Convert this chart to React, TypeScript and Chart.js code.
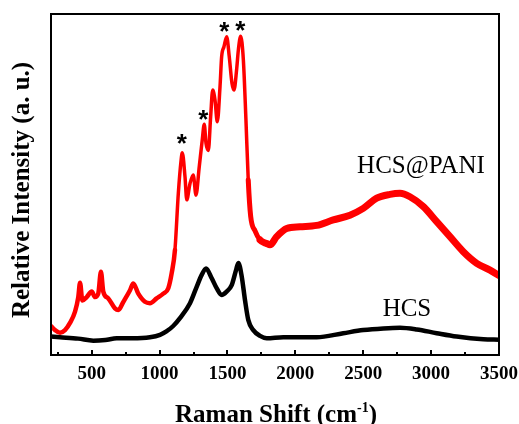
import { useEffect, useRef } from "react";
import { Chart, registerables } from "chart.js";

Chart.register(...registerables);

// HCS@PANI (red)
const paniShift = [
  200, 230, 266, 303, 340, 377, 401, 414, 431, 463, 500, 524, 548, 568, 585, 622, 671, 696, 733, 782,
  806, 843, 892, 929, 978, 1027, 1064, 1089, 1113, 1138, 1158, 1167, 1187, 1200, 1224, 1248, 1268, 1292,
  1314, 1329, 1342, 1359, 1376, 1391, 1408, 1425, 1445, 1457, 1474, 1494, 1513, 1533, 1548, 1568, 1580,
  1597, 1617, 1636, 1653, 1671, 1703, 1740, 1789, 1813, 1862, 1936, 2034, 2157, 2279, 2402, 2500, 2599,
  2697, 2771, 2844, 2943, 3041, 3139, 3237, 3336, 3434, 3500,
];
const paniIntensity = [
  8.5, 7.3, 6.5, 7.3, 9.4, 12.7, 17, 21.2, 16, 17, 18.6, 17, 18, 24.4, 18.6, 16.6, 13.7, 13.2, 15.6, 19,
  21, 18, 15.6, 15.2, 16.6, 18, 19.6, 24, 30.8, 47.5, 57, 59.3, 52.3, 45.5, 50.3, 52.8, 46.9, 55.2,
  63, 67.7, 62, 60, 69.9, 77.7, 74.8, 68.4, 78.7, 87.5, 90.4, 93.3, 87.5, 79.7, 77.7, 84, 89.4,
  93.5, 86.5, 68.9, 51.3, 40.6, 36.4, 33.7, 32.7, 32.3, 34.7, 37.1, 37.6, 38.0, 39.6, 41, 43, 46,
  47.1, 47.4, 46.4, 43.5, 39.1, 34.7, 30.3, 26.9, 24.9, 23.3,
];

// HCS (black)
const hcsShift = [
  200, 266, 400, 512, 600, 684, 800, 929, 1003, 1050, 1100, 1150, 1224, 1273, 1310, 1342, 1384,
  1420, 1457, 1494, 1531, 1563, 1580, 1605, 1629, 1653, 1690, 1740, 1789, 1911, 2157, 2353, 2500, 2648,
  2771, 2894, 3041, 3188, 3385, 3500,
];
const hcsIntensity = [
  5.4, 5.2, 4.8, 4.2, 4.4, 4.9, 4.9, 5.2, 5.9, 6.9, 8.5, 10.8, 15.2, 20, 23.5, 25.4, 22.5,
  19.6, 17.6, 18.6, 20.5, 24.9, 27, 23, 16.1, 10.3, 7.3, 5.6, 4.9, 5.2, 5.2, 6.4, 7.3, 7.8,
  8, 7.5, 6.4, 5.4, 4.6, 4.5,
];

const majorTicks = [500, 1000, 1500, 2000, 2500, 3000, 3500];
const minorTicks = [250, 750, 1250, 1750, 2250, 2750, 3250];

const xTitleMain = "Raman Shift (cm";
const xTitleSup = "-1";
const xTitleEnd = ")";
const yTitle = "Relative Intensity (a. u.)";

const seriesLabels = [
  { text: "HCS@PANI", x: 2925, y: 56 },
  { text: "HCS", x: 2822, y: 13.8 },
];
const starShift = [1163, 1322, 1477, 1594];
const starIntensity = [63.3, 70.4, 96.1, 96.5];

const SERIF = "'Liberation Serif', 'Times New Roman', serif";

const decorPlugin = {
  id: "decor",
  afterDraw(chart: any) {
    const ctx = chart.ctx as CanvasRenderingContext2D;
    const { left, right, top, bottom } = chart.chartArea;
    const xs = chart.scales.x;
    const ys = chart.scales.y;
    ctx.save();
    ctx.fillStyle = "#000";
    ctx.strokeStyle = "#000";

    // frame
    ctx.lineWidth = 2;
    ctx.strokeRect(left, top, right - left, bottom - top);

    // inward ticks
    ctx.lineWidth = 2;
    ctx.beginPath();
    majorTicks.forEach((v) => {
      const px = Math.round(xs.getPixelForValue(v));
      ctx.moveTo(px, bottom);
      ctx.lineTo(px, bottom - 5);
    });
    minorTicks.forEach((v) => {
      const px = Math.round(xs.getPixelForValue(v));
      ctx.moveTo(px, bottom);
      ctx.lineTo(px, bottom - 3);
    });
    ctx.stroke();

    // tick labels
    ctx.font = `bold 19px ${SERIF}`;
    ctx.textAlign = "center";
    ctx.textBaseline = "alphabetic";
    majorTicks.forEach((v) => {
      ctx.fillText(String(v), xs.getPixelForValue(v), bottom + 23.5);
    });

    // x title with superscript
    const mainFont = `bold 25px ${SERIF}`;
    const supFont = `bold 14px ${SERIF}`;
    ctx.font = mainFont;
    const w1 = ctx.measureText(xTitleMain).width;
    const w3 = ctx.measureText(xTitleEnd).width;
    ctx.font = supFont;
    const w2 = ctx.measureText(xTitleSup).width;
    const total = w1 + w2 + w3;
    let sx = (left + right) / 2 + 1 - total / 2;
    const base = bottom + 67;
    ctx.textAlign = "left";
    ctx.font = mainFont;
    ctx.fillText(xTitleMain, sx, base);
    sx += w1;
    ctx.font = supFont;
    ctx.fillText(xTitleSup, sx, base - 10);
    sx += w2;
    ctx.font = mainFont;
    ctx.fillText(xTitleEnd, sx, base);

    // y title
    ctx.save();
    ctx.translate(left - 28, top + 176);
    ctx.rotate(-Math.PI / 2);
    ctx.font = `bold 25px ${SERIF}`;
    ctx.textAlign = "center";
    ctx.textBaseline = "middle";
    ctx.fillText(yTitle, 0, 0);
    ctx.restore();

    // asterisks
    ctx.font = `bold 26px 'Liberation Sans', Arial, sans-serif`;
    ctx.textAlign = "center";
    ctx.textBaseline = "alphabetic";
    const m = ctx.measureText("*");
    starShift.forEach((sv, i) => {
      const px = xs.getPixelForValue(sv);
      const py = ys.getPixelForValue(starIntensity[i]);
      ctx.fillText("*", px, py + (m.actualBoundingBoxAscent - m.actualBoundingBoxDescent) / 2);
    });

    // series labels
    ctx.font = `25px ${SERIF}`;
    const capH = ctx.measureText("H").actualBoundingBoxAscent;
    seriesLabels.forEach((l) => {
      ctx.fillText(l.text, xs.getPixelForValue(l.x), ys.getPixelForValue(l.y) + capH / 2);
    });

    ctx.restore();
  },
};

export default function App() {
  const ref = useRef<HTMLCanvasElement | null>(null);
  useEffect(() => {
    if (!ref.current) return;
    const chart = new Chart(ref.current, {
      type: "line",
      data: {
        datasets: [
          {
            label: "HCS@PANI",
            data: paniShift.map((x, i) => ({ x, y: paniIntensity[i] })),
            borderColor: "#ff0000",
            borderWidth: 4,
            cubicInterpolationMode: "monotone",
            borderJoinStyle: "round",
            borderCapStyle: "round",
            pointRadius: 0,
            segment: {
              borderWidth: (c: any) => {
                const x = c.p0.parsed.x;
                if (x >= 1740) return 7;
                if (x >= 1653) return 5;
                if (x >= 1100) return 3.5;
                return 4.5;
              },
            },
          } as any,
          {
            label: "HCS",
            data: hcsShift.map((x, i) => ({ x, y: hcsIntensity[i] })),
            borderColor: "#000000",
            borderWidth: 4.5,
            cubicInterpolationMode: "monotone",
            borderJoinStyle: "round",
            borderCapStyle: "round",
            pointRadius: 0,
          } as any,
        ],
      },
      options: {
        animation: false,
        responsive: false,
        devicePixelRatio: 1,
        layout: { padding: { top: 14, right: 20, left: 0, bottom: 0 } },
        plugins: { legend: { display: false }, tooltip: { enabled: false } },
        scales: {
          x: {
            type: "linear",
            min: 200,
            max: 3500,
            grid: { display: false, drawTicks: false },
            border: { display: false },
            ticks: { display: false },
            afterFit: (s: any) => {
              s.height = 69;
            },
          },
          y: {
            type: "linear",
            min: 0,
            max: 100,
            grid: { display: false, drawTicks: false },
            border: { display: false },
            ticks: { display: false },
            afterFit: (s: any) => {
              s.width = 51;
            },
          },
        },
      } as any,
      plugins: [decorPlugin],
    });
    return () => chart.destroy();
  }, []);
  return (
    <div style={{ position: "absolute", left: 0, top: 0, width: 519, height: 424, background: "#fff" }}>
      <canvas ref={ref} width={519} height={424} style={{ display: "block" }} />
    </div>
  );
}
